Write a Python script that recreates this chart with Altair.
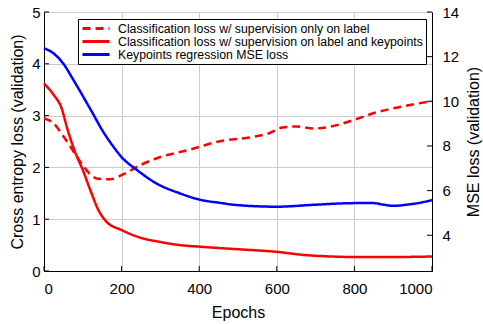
import altair as alt
import pandas as pd

# ---- data ----
s1 = "Classification loss w/ supervision only on label"
s2 = "Classification loss w/ supervision on label and keypoints"
s3 = "Keypoints regression MSE loss"

dashed_x = [0, 25, 50, 75, 100, 120, 140, 170, 200, 250, 300, 375, 450, 540, 580, 615, 650, 695, 740, 800, 860, 920, 1000]
dashed_y = [2.95, 2.85, 2.60, 2.32, 2.04, 1.86, 1.78, 1.77, 1.85, 2.05, 2.20, 2.34, 2.50, 2.59, 2.66, 2.77, 2.79, 2.75, 2.79, 2.92, 3.07, 3.17, 3.28]

solid_x = [0, 25, 45, 60, 80, 100, 120, 140, 160, 200, 250, 300, 350, 400, 500, 600, 670, 740, 800, 900, 1000]
solid_y = [3.62, 3.40, 3.15, 2.75, 2.30, 1.95, 1.55, 1.18, 0.96, 0.79, 0.64, 0.56, 0.50, 0.47, 0.42, 0.37, 0.31, 0.28, 0.27, 0.27, 0.28]

mse_x = [0, 25, 50, 75, 100, 125, 150, 175, 200, 240, 290, 350, 400, 450, 500, 600, 700, 800, 850, 875, 900, 935, 970, 1000]
mse_y = [12.38, 12.14, 11.68, 10.98, 10.24, 9.48, 8.71, 8.06, 7.50, 6.92, 6.32, 5.88, 5.60, 5.46, 5.35, 5.28, 5.37, 5.44, 5.44, 5.37, 5.32, 5.37, 5.46, 5.58]

left_ticks = [0, 1, 2, 3, 4, 5]
right_ticks = [4, 6, 8, 10, 12, 14]
x_ticks = [0, 200, 400, 600, 800, 1000]

FONT = "Liberation Sans"
W, H = 388, 259
LEFT_DOM = [0, 5]
RIGHT_DOM = [2.4, 14]

df_red = pd.concat([
    pd.DataFrame({"epoch": dashed_x, "loss": dashed_y, "series": s1}),
    pd.DataFrame({"epoch": solid_x, "loss": solid_y, "series": s2}),
])
df_blue = pd.DataFrame({"epoch": mse_x, "mse": mse_y, "series": s3})
df_rt = pd.DataFrame({"t": right_ticks})
df_lt = pd.DataFrame({"t": left_ticks})
df_xt = pd.DataFrame({"epoch": x_ticks})

order = [s1, s2, s3]
color_scale = alt.Scale(domain=order, range=["#ff0000", "#ff0000", "#0000ff"])
dash_scale = alt.Scale(domain=order, range=[[8, 5], [1, 0], [1, 0]])
leg = alt.Legend(title=None, orient="none", legendX=34, legendY=7,
                 symbolType="M-1,0H4.4", symbolSize=100, symbolStrokeWidth=3,
                 labelFontSize=12.3, labelFont=FONT, labelColor="black",
                 strokeColor="black", fillColor="white", padding=3,
                 rowPadding=0, labelLimit=0, labelOffset=24)

xscale = alt.Scale(domain=[0, 1000], nice=False)
xaxis = alt.Axis(values=x_ticks, format="d", grid=True, ticks=False,
                 labelPadding=10, titlePadding=8)

red = alt.Chart(df_red).mark_line(strokeWidth=2.5, interpolate="monotone").encode(
    x=alt.X("epoch:Q", title="Epochs", scale=xscale, axis=xaxis),
    y=alt.Y("loss:Q", title="Cross entropy loss (validation)",
            scale=alt.Scale(domain=LEFT_DOM, nice=False),
            axis=alt.Axis(values=left_ticks, grid=True, ticks=False, labelPadding=4,
                          titlePadding=6)),
    color=alt.Color("series:N", scale=color_scale, legend=leg, sort=order),
    strokeDash=alt.StrokeDash("series:N", scale=dash_scale, legend=leg, sort=order),
)

blue_line = alt.Chart(df_blue).mark_line(strokeWidth=2.5, interpolate="monotone").encode(
    x=alt.X("epoch:Q", title="Epochs", scale=xscale, axis=xaxis),
    y=alt.Y("mse:Q", title="MSE loss (validation)",
            scale=alt.Scale(domain=RIGHT_DOM, nice=False),
            axis=alt.Axis(orient="right", values=right_ticks, grid=False, ticks=False,
                          labelPadding=10, titlePadding=23, titleAngle=270)),
    color=alt.Color("series:N", scale=color_scale, legend=leg, sort=order),
    strokeDash=alt.StrokeDash("series:N", scale=dash_scale, legend=leg, sort=order),
)

# inward tick marks (MATLAB style)
rticks = alt.Chart(df_rt).mark_rule(color="black", strokeWidth=1).encode(
    y=alt.Y("t:Q", axis=None, scale=alt.Scale(domain=RIGHT_DOM, nice=False)),
    x=alt.value(W - 5), x2=alt.value(W),
)
lticks = alt.Chart(df_lt).mark_rule(color="black", strokeWidth=1).encode(
    y=alt.Y("t:Q", axis=None, scale=alt.Scale(domain=LEFT_DOM, nice=False)),
    x=alt.value(0), x2=alt.value(5),
)
bticks = alt.Chart(df_xt).mark_rule(color="black", strokeWidth=1).encode(
    x=alt.X("epoch:Q", title="Epochs", scale=xscale, axis=xaxis),
    y=alt.value(H - 5), y2=alt.value(H),
)

chart = alt.layer(red, blue_line, rticks, lticks, bticks).resolve_scale(
    y="independent").properties(
    width=W, height=H, background="white",
    autosize=alt.AutoSizeParams(type="none"),
    padding={"left": 44, "top": 12, "right": 51, "bottom": 53},
).configure_view(stroke="black", strokeWidth=1).configure_axis(
    labelFont=FONT, titleFont=FONT, labelFontSize=15, titleFontSize=16,
    labelColor="black", titleColor="black", titleFontWeight="normal",
    domainColor="black", gridColor="#cccccc", gridWidth=1, domain=True,
)

chart.save("out.html", embed_options={"renderer": "svg", "actions": False})
